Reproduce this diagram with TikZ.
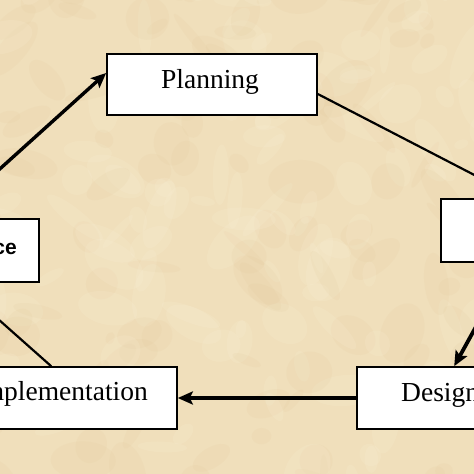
\documentclass[tikz,border=0pt]{standalone}
\usepackage{fontspec}
\setmainfont{Liberation Serif}
\newfontfamily\arialfont{Liberation Sans}
\usetikzlibrary{arrows.meta}
\definecolor{parch}{RGB}{240,223,187}
\definecolor{parchlight}{RGB}{250,240,214}
\definecolor{parchdark}{RGB}{224,198,152}
\begin{document}
\begin{tikzpicture}[x=1pt,y=-1pt,
  box/.style={draw=black,line width=1.6pt,fill=white,inner sep=0pt},
  lbl/.style={inner sep=0pt,font=\fontsize{27.5}{30}\selectfont},
  sanslbl/.style={inner sep=0pt,font=\arialfont\bfseries\fontsize{21}{24}\selectfont},
  arr/.style={draw=black,line width=3.6pt,-{Stealth[length=15pt,width=13pt,inset=3pt]}},
  thinl/.style={draw=black,line width=2.2pt}]
\useasboundingbox (0,0) rectangle (474,474);
\clip (0,0) rectangle (474,474);
\fill[parch] (0,0) rectangle (474,474);
\pgfmathsetseed{11}
\foreach \i in {1,...,220}{
  \pgfmathsetmacro{\px}{rnd*500-13}
  \pgfmathsetmacro{\py}{rnd*500-13}
  \pgfmathsetmacro{\rx}{6+rnd*30}
  \pgfmathsetmacro{\ry}{4+rnd*18}
  \pgfmathsetmacro{\rt}{rnd*180}
  \pgfmathsetmacro{\c}{rnd}
  \ifdim\c pt<0.5pt
    \fill[parchlight,opacity=0.18,rotate around={\rt:(\px,\py)}] (\px,\py) ellipse [x radius=\rx, y radius=\ry];
  \else
    \fill[parchdark,opacity=0.12,rotate around={\rt:(\px,\py)}] (\px,\py) ellipse [x radius=\rx, y radius=\ry];
  \fi
}
% boxes
\node[box,minimum width=210pt,minimum height=61pt] (plan) at (212,84.5) {};
\node[box,minimum width=180pt,minimum height=63pt] (maint) at (-51,250.5) {};
\node[box,minimum width=180pt,minimum height=63pt] (rb) at (531,230.5) {};
\node[box,minimum width=235pt,minimum height=62pt] (impl) at (59.5,398) {};
\node[box,minimum width=167pt,minimum height=62pt] (des) at (440.5,398) {};
% labels
\node[lbl,anchor=base] (planT) at (210,88) {Planning};
\node[lbl,anchor=base east] (implT) at (148,400) {Implementation};
\node[lbl,anchor=base west] (desT) at (401,401) {Design};
\node[sanslbl,anchor=base east] (maintT) at (17,254) {Maintenance};
% connectors
\draw[arr,line width=3.4pt] ([xshift=87pt]maint.north west) -- ([yshift=11.5pt]plan.west);
\draw[thinl] ([yshift=-9.5pt]plan.east) -- ([xshift=79pt]rb.north west);
\draw[arr,line width=3.8pt] ([xshift=71pt]rb.south west) -- ([xshift=98pt]des.north west);
\draw[arr,line width=4.2pt] (des.west) -- (impl.east);
\draw[thinl] ([xshift=110pt]impl.north west) -- ([xshift=99pt]maint.south west);
\end{tikzpicture}
\end{document}
